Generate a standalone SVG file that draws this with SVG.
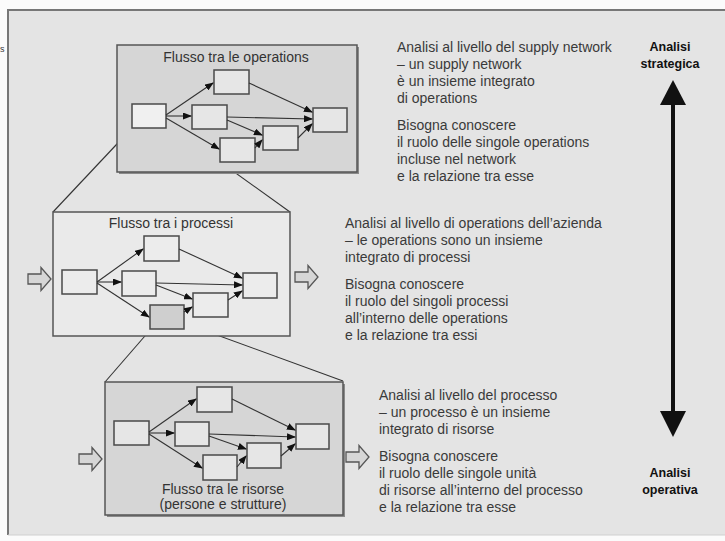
<svg xmlns="http://www.w3.org/2000/svg" width="725" height="541" viewBox="0 0 725 541">
  <style>
    .txt { font-family: "Liberation Sans", Arial, sans-serif; font-size: 14px; fill: #3a3a3a; }
    .ttl { font-family: "Liberation Sans", Arial, sans-serif; font-size: 14px; fill: #333; text-anchor: middle; }
    .bold { font-family: "Liberation Sans", Arial, sans-serif; font-size: 12.5px; font-weight: bold; fill: #111; text-anchor: middle; }
    .node { fill: #e6e6e6; stroke: #4a4a4a; stroke-width: 1.5; }
    .panel { stroke: #555; stroke-width: 1.5; }
    .edge { fill: none; stroke: #333; stroke-width: 1.1; marker-end: url(#ah); }
    .zoom { fill: none; stroke: #333; stroke-width: 1.1; }
    .blk { fill: #d6d6d6; stroke: #555; stroke-width: 1.3; }
  </style>
  <defs>
    <marker id="ah" markerUnits="userSpaceOnUse" markerWidth="9" markerHeight="7" refX="8" refY="3.5" orient="auto">
      <path d="M0,0 L9,3.5 L0,7 Z" fill="#111"/>
    </marker>
    <path id="blk" d="M0,-5 H13 V-11.5 L23,0 L13,11.5 V5 H0 Z"/>
  </defs>

  <!-- page -->
  <rect x="0" y="0" width="725" height="541" fill="#fbfbfb"/>
  <rect x="8" y="10" width="720" height="525" fill="#e4e4e4"/>
  <path d="M8,535 V10 H725" fill="none" stroke="#777" stroke-width="2"/>
  <line x1="8" y1="535" x2="725" y2="535" stroke="#d0d0d0" stroke-width="1"/>
  <text class="txt" x="0" y="52" style="font-size:9px">s</text>

  <!-- zoom lines between levels -->
  <g id="zoom-lines">
    <line class="zoom" x1="132" y1="128" x2="53" y2="212"/>
    <line class="zoom" x1="166" y1="123" x2="290" y2="212"/>
    <line class="zoom" x1="151" y1="329" x2="105" y2="382"/>
    <line class="zoom" x1="184" y1="323" x2="343" y2="381"/>
  </g>

  <!-- level 1: supply network -->
  <g id="panel-operations">
    <rect x="119" y="47" width="240" height="127" fill="#8a8a8a"/>
    <rect class="panel" x="117" y="45" width="240" height="127" fill="#d6d6d6"/>
    <text class="ttl" x="236" y="62">Flusso tra le operations</text>
  </g>
  <g id="op-a"><rect class="node" x="132" y="104" width="34" height="24" style="fill:#f0f0f0"/></g>
  <g id="op-b"><rect class="node" x="214" y="70" width="35" height="24"/></g>
  <g id="op-c"><rect class="node" x="192" y="105" width="35" height="24"/></g>
  <g id="op-d"><rect class="node" x="220" y="138" width="35" height="24"/></g>
  <g id="op-e"><rect class="node" x="263" y="126" width="35" height="24"/></g>
  <g id="op-f"><rect class="node" x="313" y="108" width="34" height="24"/></g>

  <!-- level 2: processes -->
  <g id="panel-processi">
    <rect class="panel" x="53" y="212" width="237" height="124" fill="#eaeaea" stroke-width="2"/>
    <text class="ttl" x="171" y="228">Flusso tra i processi</text>
  </g>
  <g id="pr-a"><rect class="node" x="62" y="270" width="35" height="24" style="fill:#ececec"/></g>
  <g id="pr-b"><rect class="node" x="144" y="236" width="35" height="25" style="fill:#ececec"/></g>
  <g id="pr-c"><rect class="node" x="122" y="271" width="34" height="25" style="fill:#ececec"/></g>
  <g id="pr-d"><rect class="node" x="150" y="305" width="34" height="24" style="fill:#cfcfcf"/></g>
  <g id="pr-e"><rect class="node" x="193" y="293" width="35" height="24" style="fill:#ececec"/></g>
  <g id="pr-f"><rect class="node" x="243" y="273" width="34" height="25" style="fill:#ececec"/></g>
  <g id="pr-in"><use href="#blk" class="blk" transform="translate(28,279)"/></g>
  <g id="pr-out"><use href="#blk" class="blk" transform="translate(295,277)"/></g>

  <!-- level 3: resources -->
  <g id="panel-risorse">
    <rect x="107" y="384" width="238" height="133" fill="#8a8a8a"/>
    <rect class="panel" x="105" y="382" width="238" height="133" fill="#d6d6d6"/>
    <text class="ttl" x="223" y="494">Flusso tra le risorse</text>
    <text class="ttl" x="223" y="509">(persone e strutture)</text>
  </g>
  <g id="rs-a"><rect class="node" x="114" y="421" width="35" height="24"/></g>
  <g id="rs-b"><rect class="node" x="197" y="387" width="35" height="25"/></g>
  <g id="rs-c"><rect class="node" x="175" y="422" width="34" height="24"/></g>
  <g id="rs-d"><rect class="node" x="203" y="455" width="34" height="25"/></g>
  <g id="rs-e"><rect class="node" x="247" y="443" width="34" height="25"/></g>
  <g id="rs-f"><rect class="node" x="296" y="424" width="33" height="25"/></g>
  <g id="rs-in"><use href="#blk" class="blk" transform="translate(79,459)"/></g>
  <g id="rs-out"><use href="#blk" class="blk" transform="translate(346,457)"/></g>

  <!-- flow connectors -->
  <g id="connectors">
    <line class="edge" x1="166" y1="115" x2="213" y2="83"/>
    <line class="edge" x1="166" y1="116" x2="191" y2="116"/>
    <line class="edge" x1="166" y1="118" x2="219" y2="149"/>
    <line class="edge" x1="249" y1="83" x2="312" y2="112"/>
    <line class="edge" x1="227" y1="117" x2="312" y2="119"/>
    <line class="edge" x1="227" y1="120" x2="262" y2="135"/>
    <line class="edge" x1="255" y1="148" x2="262" y2="140"/>
    <line class="edge" x1="298" y1="138" x2="312" y2="124"/>

    <line class="edge" x1="97" y1="282" x2="143" y2="249"/>
    <line class="edge" x1="97" y1="282" x2="121" y2="282"/>
    <line class="edge" x1="97" y1="283" x2="149" y2="317"/>
    <line class="edge" x1="179" y1="249" x2="242" y2="278"/>
    <line class="edge" x1="156" y1="283" x2="242" y2="285"/>
    <line class="edge" x1="156" y1="285" x2="192" y2="299"/>
    <line class="edge" x1="184" y1="312" x2="192" y2="307"/>
    <line class="edge" x1="228" y1="300" x2="242" y2="291"/>

    <line class="edge" x1="149" y1="432" x2="196" y2="399"/>
    <line class="edge" x1="149" y1="433" x2="174" y2="433"/>
    <line class="edge" x1="149" y1="434" x2="202" y2="468"/>
    <line class="edge" x1="232" y1="399" x2="295" y2="430"/>
    <line class="edge" x1="209" y1="434" x2="295" y2="437"/>
    <line class="edge" x1="209" y1="436" x2="246" y2="449"/>
    <line class="edge" x1="237" y1="467" x2="246" y2="456"/>
    <line class="edge" x1="281" y1="456" x2="295" y2="444"/>
  </g>

  <!-- descriptions -->
  <g id="desc-network" class="txt">
    <text x="397" y="52">Analisi al livello del supply network</text>
    <text x="397" y="69">– un supply network</text>
    <text x="397" y="86">è un insieme integrato</text>
    <text x="397" y="103">di operations</text>
    <text x="397" y="130">Bisogna conoscere</text>
    <text x="397" y="147">il ruolo delle singole operations</text>
    <text x="397" y="164">incluse nel network</text>
    <text x="397" y="181">e la relazione tra esse</text>
  </g>
  <g id="desc-azienda" class="txt">
    <text x="345" y="228">Analisi al livello di operations dell’azienda</text>
    <text x="345" y="245">– le operations sono un insieme</text>
    <text x="345" y="262">integrato di processi</text>
    <text x="345" y="289">Bisogna conoscere</text>
    <text x="345" y="306">il ruolo del singoli processi</text>
    <text x="345" y="323">all’interno delle operations</text>
    <text x="345" y="340">e la relazione tra essi</text>
  </g>
  <g id="desc-processo" class="txt">
    <text x="379" y="400">Analisi al livello del processo</text>
    <text x="379" y="417">– un processo è un insieme</text>
    <text x="379" y="434">integrato di risorse</text>
    <text x="379" y="461">Bisogna conoscere</text>
    <text x="379" y="478">il ruolo delle singole unità</text>
    <text x="379" y="495">di risorse all’interno del processo</text>
    <text x="379" y="512">e la relazione tra esse</text>
  </g>

  <!-- analysis scale -->
  <g id="scale">
    <text class="bold" x="670" y="51">Analisi</text>
    <text class="bold" x="670" y="68">strategica</text>
    <line x1="673" y1="100" x2="673" y2="415" stroke="#111" stroke-width="4"/>
    <path d="M673,80 L686,105 L660,105 Z" fill="#111"/>
    <path d="M673,437 L686,411 L660,411 Z" fill="#111"/>
    <text class="bold" x="670" y="477">Analisi</text>
    <text class="bold" x="670" y="494">operativa</text>
  </g>
</svg>
